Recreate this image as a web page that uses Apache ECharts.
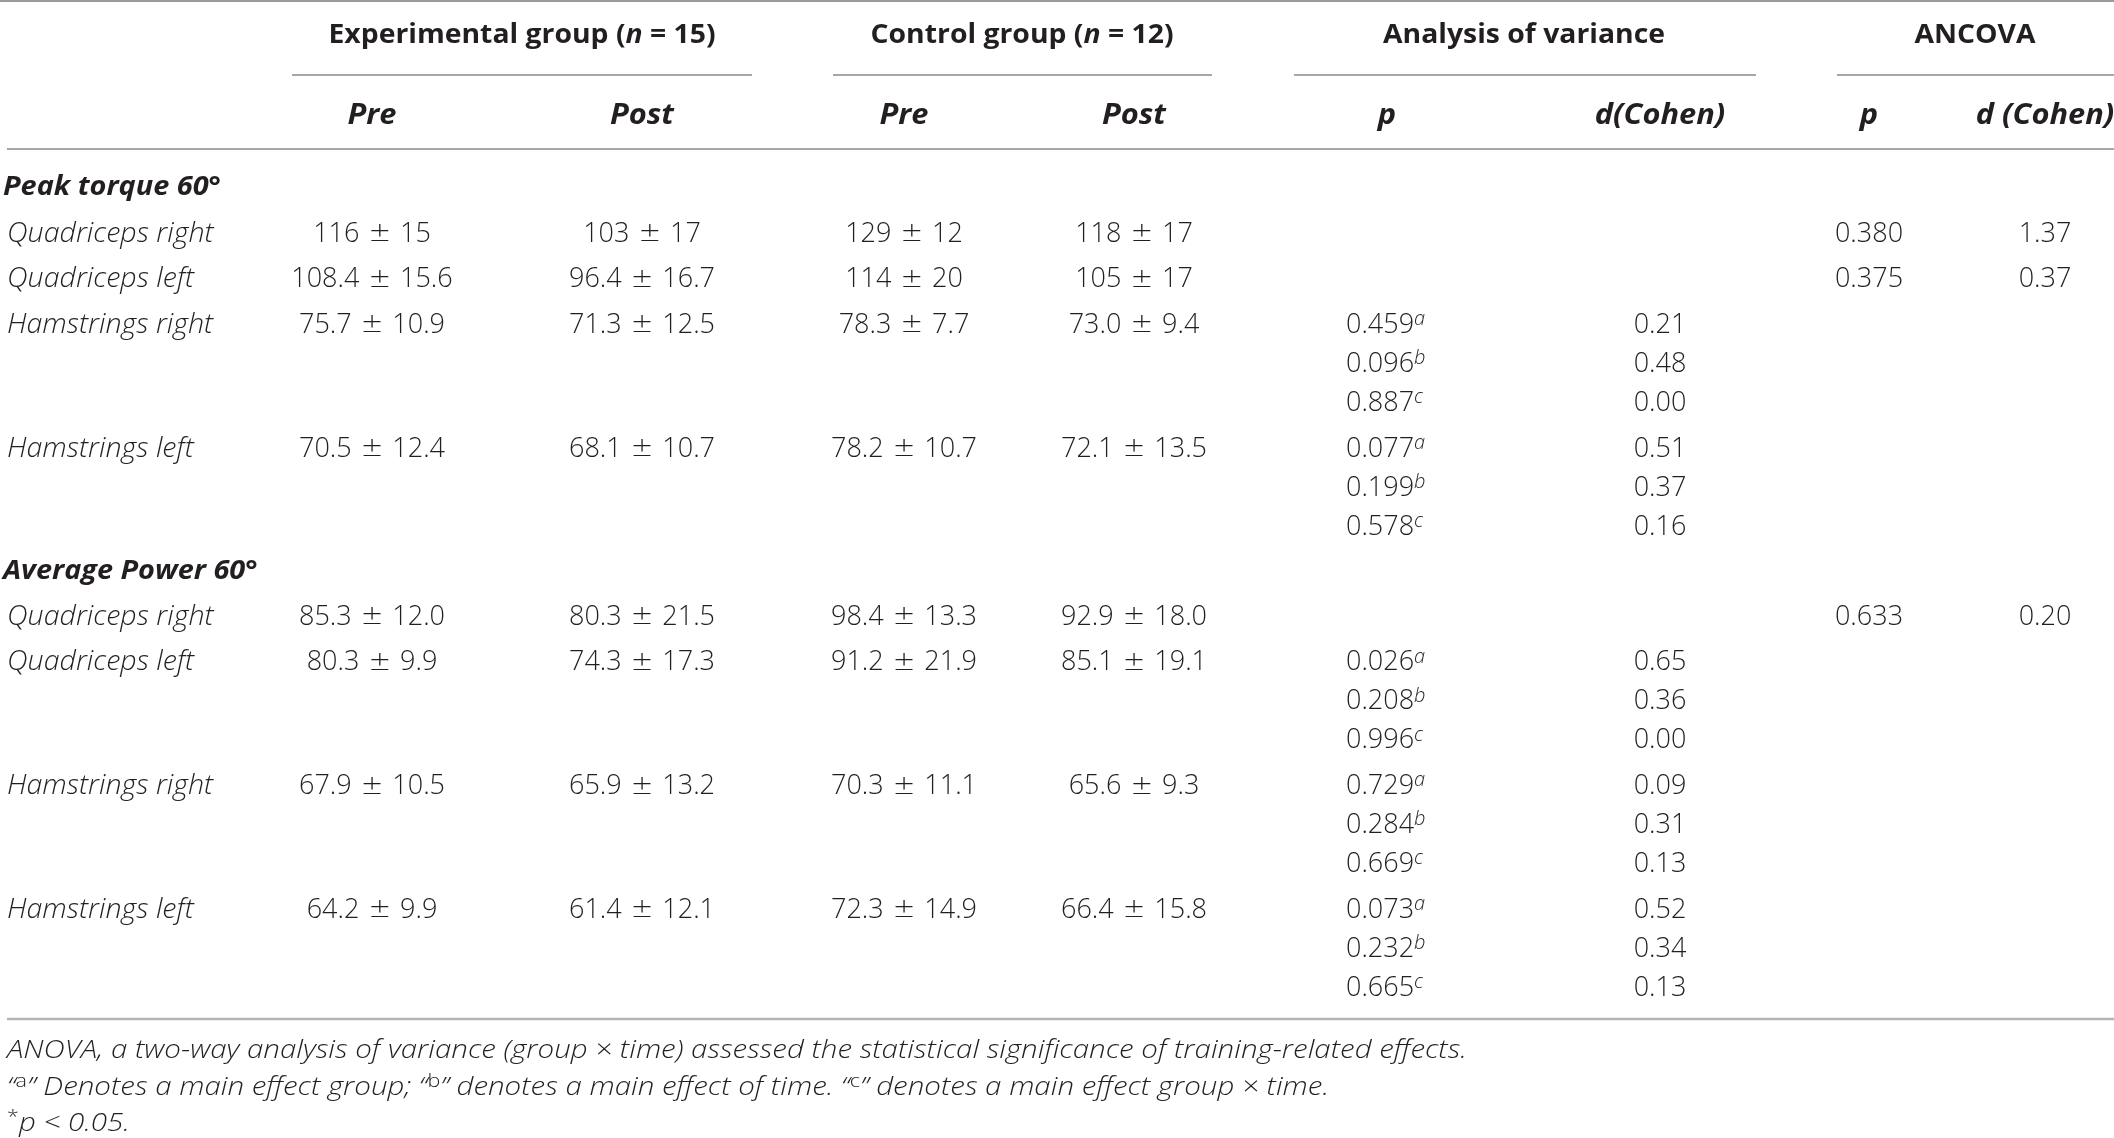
<!DOCTYPE html>
<html>
<head>
<meta charset="utf-8">
<script src="https://cdn.jsdelivr.net/npm/echarts@6/dist/echarts.min.js"></script>
<style>
  html, body { margin: 0; padding: 0; background: #fff; }
  #main { width: 2114px; height: 1138px; }
</style>
</head>
<body>
<div id="main"></div>
<script>
// table content
var groupHeads = ['Experimental group', 'Control group', 'Analysis of variance', 'ANCOVA'];
var groupN = ['15', '12', null, null];
var subHeads = ['Pre', 'Post', 'Pre', 'Post', 'p', 'd(Cohen)', 'p', 'd (Cohen)'];
var sections = ['Peak torque 60°', 'Average Power 60°'];
var rowSection = [0, 0, 0, 0, 1, 1, 1, 1];
var rowLabels = ['Quadriceps right', 'Quadriceps left', 'Hamstrings right', 'Hamstrings left',
                 'Quadriceps right', 'Quadriceps left', 'Hamstrings right', 'Hamstrings left'];
var expPre = ['116 ± 15', '108.4 ± 15.6', '75.7 ± 10.9', '70.5 ± 12.4', '85.3 ± 12.0', '80.3 ± 9.9', '67.9 ± 10.5', '64.2 ± 9.9'];
var expPost = ['103 ± 17', '96.4 ± 16.7', '71.3 ± 12.5', '68.1 ± 10.7', '80.3 ± 21.5', '74.3 ± 17.3', '65.9 ± 13.2', '61.4 ± 12.1'];
var ctrlPre = ['129 ± 12', '114 ± 20', '78.3 ± 7.7', '78.2 ± 10.7', '98.4 ± 13.3', '91.2 ± 21.9', '70.3 ± 11.1', '72.3 ± 14.9'];
var ctrlPost = ['118 ± 17', '105 ± 17', '73.0 ± 9.4', '72.1 ± 13.5', '92.9 ± 18.0', '85.1 ± 19.1', '65.6 ± 9.3', '66.4 ± 15.8'];
var anovaP = [null, null, ['0.459', '0.096', '0.887'], ['0.077', '0.199', '0.578'],
              null, ['0.026', '0.208', '0.996'], ['0.729', '0.284', '0.669'], ['0.073', '0.232', '0.665']];
var anovaD = [null, null, ['0.21', '0.48', '0.00'], ['0.51', '0.37', '0.16'],
              null, ['0.65', '0.36', '0.00'], ['0.09', '0.31', '0.13'], ['0.52', '0.34', '0.13']];
var ancovaP = ['0.380', '0.375', null, null, '0.633', null, null, null];
var ancovaD = ['1.37', '0.37', null, null, '0.20', null, null, null];
var effectMarks = ['a', 'b', 'c'];
var notes = [
  'ANOVA, a two-way analysis of variance (group × time) assessed the statistical significance of training-related effects.',
  ['a', '” Denotes a main effect group; “', 'b', '” denotes a main effect of time. “', 'c', '” denotes a main effect group × time.'],
  'p < 0.05.'
];

// layout
var FONT = '"Open Sans", Roboto, "Liberation Sans", sans-serif';
var SYM = '"DejaVu Sans", "Open Sans", sans-serif';
var INK = '#231f20';
var SIZE = 27;
var DY = 4;
var colX = [372, 642, 904, 1134, 1387, 1660, 1869, 2045];
var groupX = [522, 1022, 1524, 1975];
var groupLine = [[292, 752], [833, 1212], [1294, 1756], [1837, 2114]];
var pLeft = 1346;
var rowGap = 45.7, subGap = 39;

var g = [];

function txt(x, y, text, opt) {
  opt = opt || {};
  g.push({
    type: 'text', x: x, y: y + DY, silent: true,
    scaleX: opt.sx || 1,
    style: {
      text: text,
      fontFamily: FONT,
      fontSize: opt.size || SIZE,
      fontWeight: opt.weight || 300,
      fontStyle: opt.style || 'normal',
      fill: INK,
      align: opt.align || 'center',
      verticalAlign: 'middle',
      rich: opt.rich
    }
  });
}
function hline(x1, x2, y, color, w) {
  g.push({ type: 'line', silent: true, shape: { x1: x1, y1: y, x2: x2, y2: y },
           style: { stroke: color, lineWidth: w } });
}

var plain = { fontFamily: FONT, fontSize: SIZE, fontWeight: 300, fill: INK };
var pmRich = {
  n: plain,
  pm: { fontFamily: SYM, fontSize: SIZE, fontWeight: 200, fill: INK, padding: [0, 2] }
};
function pmText(s) {
  var parts = s.split(' ± ');
  return '{n|' + parts[0] + ' }{pm|±}{n| ' + parts[1] + '}';
}

// header
hline(0, 2114, 1, '#9a9a9a', 2);
groupHeads.forEach(function (h, i) {
  if (groupN[i]) {
    txt(groupX[i], 32, '{b|' + h + ' (}{bi|n}{b| = ' + groupN[i] + ')}', {
      sx: 1.09,
      rich: {
        b: { fontFamily: FONT, fontSize: 26, fontWeight: 'bold', fill: INK },
        bi: { fontFamily: FONT, fontSize: 26, fontWeight: 'bold', fontStyle: 'italic', fill: INK }
      }
    });
  } else {
    txt(groupX[i], 32, h, { weight: 'bold', size: 26, sx: 1.09 });
  }
  hline(groupLine[i][0], groupLine[i][1], 75, '#8a8a8a', 1.5);
});
subHeads.forEach(function (h, i) {
  txt(colX[i], 112, h, { weight: 'bold', style: 'italic', size: 28, sx: 1.1 });
});
hline(7, 2114, 149, '#8a8a8a', 1.5);

// body
var sup = {
  n: { fontFamily: FONT, fontSize: SIZE, fontWeight: 300, fill: INK, lineHeight: 32 },
  s: { fontFamily: FONT, fontSize: 20, fontWeight: 300, fontStyle: 'italic', fill: INK, lineHeight: 20, verticalAlign: 'top' }
};
var y = 185;
var lastSection = -1;
rowLabels.forEach(function (label, r) {
  if (rowSection[r] !== lastSection) {
    if (lastSection !== -1) y += rowGap - 0.7;
    lastSection = rowSection[r];
    txt(3, y - 1, sections[lastSection], { align: 'left', weight: 'bold', style: 'italic', size: 26, sx: 1.11 });
    y += rowGap - 0.7;
  } else {
    y += rowGap;
  }
  txt(7, y, label, { align: 'left', style: 'italic', sx: 1.06 });
  [expPre, expPost, ctrlPre, ctrlPost].forEach(function (col, c) {
    txt(colX[c], y, pmText(col[r]), { rich: pmRich });
  });
  if (ancovaP[r]) txt(colX[6], y, ancovaP[r]);
  if (ancovaD[r]) txt(colX[7], y, ancovaD[r]);
  if (anovaP[r]) {
    anovaP[r].forEach(function (p, k) {
      var yy = y + k * subGap;
      txt(pLeft, yy, '{n|' + p + '}{s|' + effectMarks[k] + '}', { align: 'left', rich: sup });
      txt(colX[5], yy, anovaD[r][k]);
    });
    y += 2 * subGap;
  }
});

// footer
hline(7, 2114, 1019, '#b5b5b5', 2.5);
var it = { fontFamily: FONT, fontSize: 26, fontWeight: 300, fontStyle: 'italic', fill: INK, lineHeight: 32 };
var sm = { fontFamily: FONT, fontSize: 19, fontWeight: 300, fill: INK, lineHeight: 19, verticalAlign: 'top' };
txt(7, 1047, notes[0], { align: 'left', style: 'italic', size: 26, sx: 1.135 });
txt(7, 1084, '{i|“}{s|' + notes[1][0] + '}{i|' + notes[1][1] + '}{s|' + notes[1][2] + '}{i|' +
    notes[1][3] + '}{s|' + notes[1][4] + '}{i|' + notes[1][5] + '}', { align: 'left', rich: { i: it, s: sm }, sx: 1.135 });
txt(7, 1120, '{s|*}{i|' + notes[2] + '}', { align: 'left', rich: { i: it, s: sm }, sx: 1.135 });

var chart = echarts.init(document.getElementById('main'), null, { renderer: 'canvas' });
chart.setOption({
  backgroundColor: '#ffffff',
  animation: false,
  graphic: { elements: g }
});
</script>
</body>
</html>
